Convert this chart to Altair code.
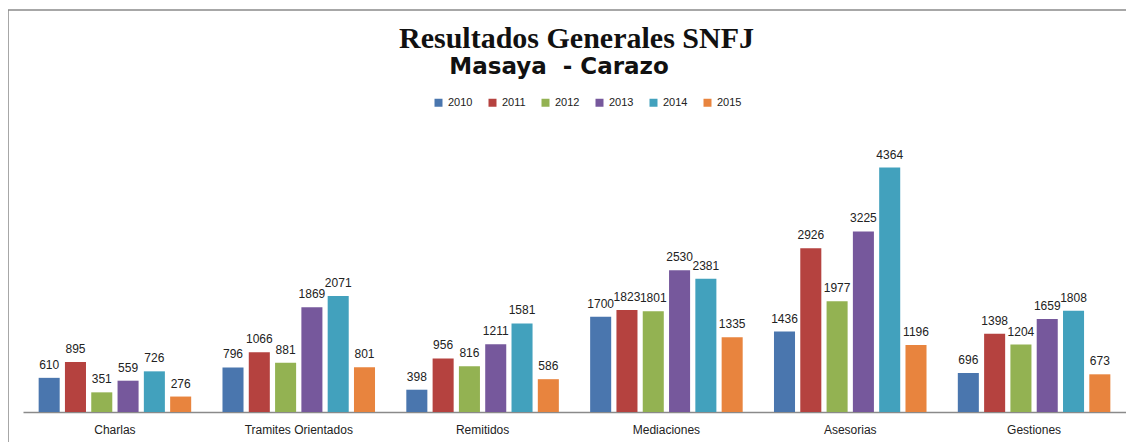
import altair as alt
import pandas as pd

categories = ["Charlas", "Tramites Orientados", "Remitidos", "Mediaciones", "Asesorias", "Gestiones"]
years = ["2010", "2011", "2012", "2013", "2014", "2015"]
v2010 = [610, 796, 398, 1700, 1436, 696]
v2011 = [895, 1066, 956, 1823, 2926, 1398]
v2012 = [351, 881, 816, 1801, 1977, 1204]
v2013 = [559, 1869, 1211, 2530, 3225, 1659]
v2014 = [726, 2071, 1581, 2381, 4364, 1808]
v2015 = [276, 801, 586, 1335, 1196, 673]
colors = ["#4A76AE", "#B5423F", "#93B252", "#76589C", "#42A1BD", "#E8843E"]
title_text = "Resultados Generales SNFJ"
subtitle_text = "Masaya\u00a0\u00a0-\u00a0Carazo"

series = [v2010, v2011, v2012, v2013, v2014, v2015]
rows = []
for y, vals in zip(years, series):
    for c, v in zip(categories, vals):
        rows.append({"cat": c, "year": y, "value": v})
df = pd.DataFrame(rows)

W, H = 1103, 280

x = alt.X("cat:N", sort=categories, title=None,
          scale=alt.Scale(paddingInner=0, paddingOuter=0),
          axis=alt.Axis(labelAngle=0, ticks=False, domainColor="#8a8a8a", domainWidth=1.5,
                        labelFont="Liberation Sans", labelFontSize=12, labelColor="#222222",
                        labelPadding=12))
xo = alt.XOffset("year:N", sort=years, scale=alt.Scale(paddingInner=0.2, paddingOuter=0.595))
y = alt.Y("value:Q", scale=alt.Scale(domain=[0, 5000]), axis=None)

base = alt.Chart(df).encode(x=x, xOffset=xo, y=y)

bars = base.mark_bar().encode(
    color=alt.Color("year:N", sort=years, scale=alt.Scale(domain=years, range=colors),
                    legend=alt.Legend(title=None, orient="none", direction="horizontal",
                                      legendX=410, legendY=-35, symbolType="square",
                                      symbolSize=64, symbolStrokeWidth=0, labelFontSize=11,
                                      labelFont="Liberation Sans", labelColor="#222222",
                                      columnPadding=14, labelOffset=4))
)
labels = base.mark_text(baseline="alphabetic", dy=-9, font="Liberation Sans", fontSize=12,
                        color="#222222").encode(text="value:Q")

one = pd.DataFrame({"a": [0]})
border = alt.Chart(one).mark_rect(
    fill=None, stroke="#8a8a8a", strokeWidth=1.5).encode(
    x=alt.value(-15), x2=alt.value(W + 60), y=alt.value(-122), y2=alt.value(H + 80))

title = alt.Chart(one).mark_text(font="Liberation Serif", fontSize=30, fontWeight="bold",
                                 color="#111111", baseline="alphabetic", align="center").encode(
    x=alt.value(W / 2 + 2), y=alt.value(-84), text=alt.value(title_text))
subtitle = alt.Chart(one).mark_text(font="DejaVu Sans", fontSize=23, fontWeight="bold",
                                    color="#111111", baseline="alphabetic", align="center").encode(
    x=alt.value(536), y=alt.value(-58), text=alt.value(subtitle_text))

chart = alt.layer(border, title, subtitle, bars, labels).properties(
    width=W, height=H,
    autosize=alt.AutoSizeParams(type="none"),
    padding={"left": 15, "top": 124, "right": 0, "bottom": 30},
).configure(background="white").configure_view(stroke="transparent", strokeWidth=0)

chart.save("out.html", embed_options={"renderer": "svg", "actions": False})
